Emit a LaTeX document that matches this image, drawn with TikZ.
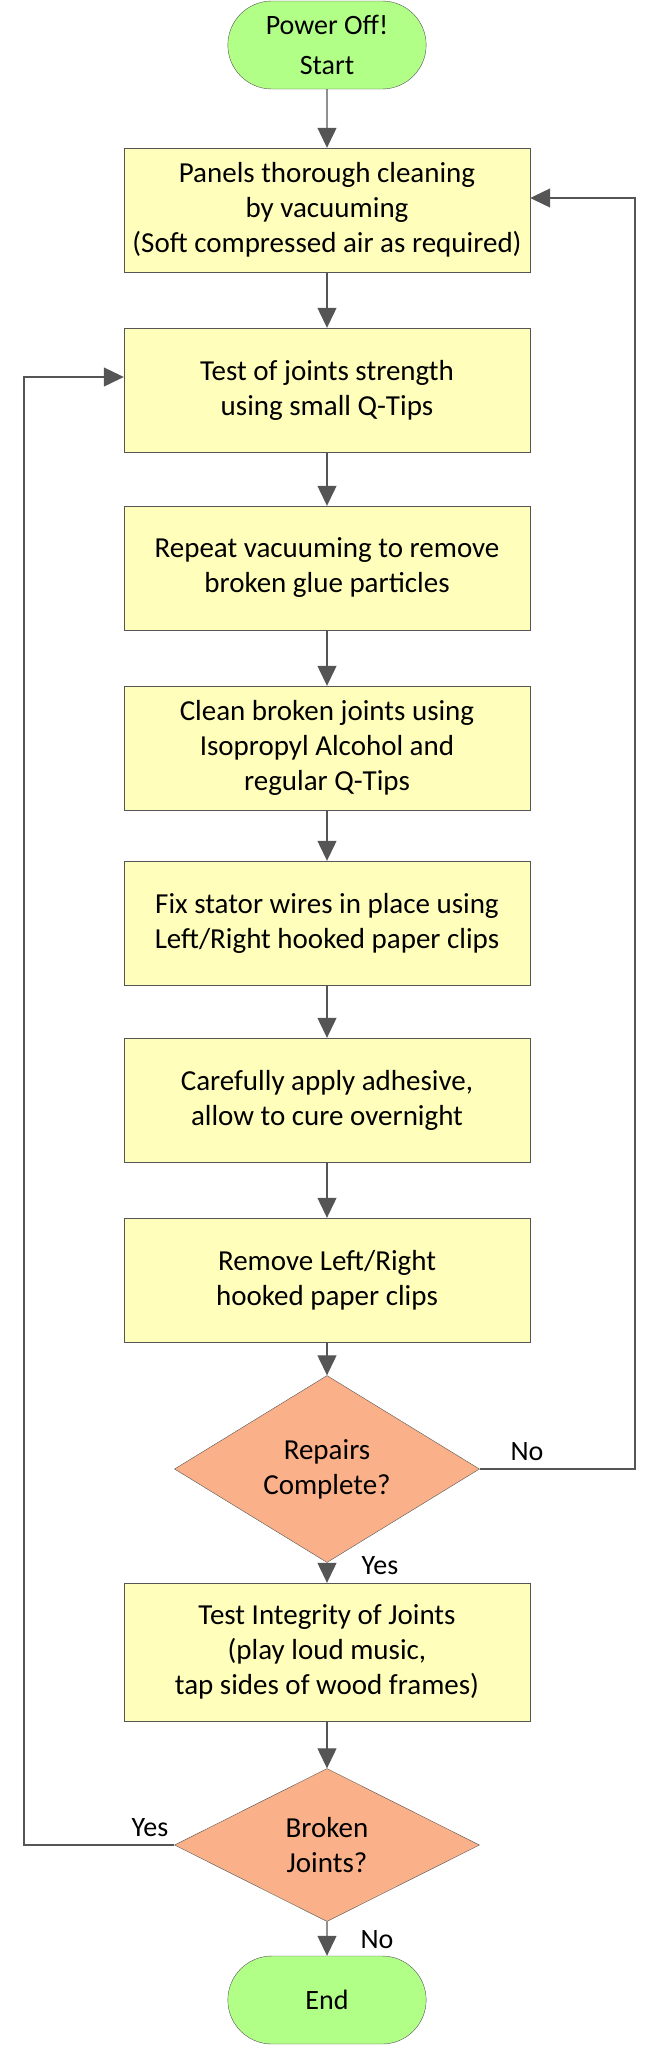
\documentclass[tikz,border=0pt]{standalone}
\usepackage{fontspec}
\setmainfont{Carlito}
\usetikzlibrary{shapes.geometric,shapes.misc,arrows.meta}
\definecolor{boxyellow}{RGB}{255,255,187}
\definecolor{termgreen}{RGB}{178,255,136}
\definecolor{decorange}{RGB}{250,176,136}
\definecolor{linegray}{RGB}{85,85,85}
\tikzset{
  stepbox/.style={draw=linegray, fill=boxyellow, minimum width=406pt, minimum height=124pt, align=center, font=\fontsize{29}{35}\selectfont},
  term/.style={draw=linegray, fill=termgreen, rounded rectangle, minimum width=205pt, minimum height=88pt, inner ysep=1pt, align=center, font=\fontsize{28}{40}\selectfont},
  decision/.style={draw=linegray, fill=decorange, diamond, inner sep=0pt, minimum width=305pt, minimum height=153pt, align=center, font=\fontsize{29}{35}\selectfont},
  flow/.style={draw=linegray, line width=1.2pt, -{Triangle[length=20pt,width=19pt]}},
  lbl/.style={font=\fontsize{28}{30}\selectfont}
}
\begin{document}
\begin{tikzpicture}[x=1pt,y=-1pt]
  \useasboundingbox (0,0) rectangle (653,2048);

  \node[term] (start) at (327,45) {Power Off!\\Start};
  \node[stepbox] (clean) at (327,210) {Panels thorough cleaning\\by vacuuming\\(Soft compressed air as required)};
  \node[stepbox] (test) at (327,390) {Test of joints strength\\using small Q-Tips};
  \node[stepbox] (vacuum) at (327,568) {Repeat vacuuming to remove\\broken glue particles};
  \node[stepbox] (alcohol) at (327,748) {Clean broken joints using\\Isopropyl Alcohol and\\regular Q-Tips};
  \node[stepbox] (fix) at (327,923) {Fix stator wires in place using\\Left/Right hooked paper clips};
  \node[stepbox] (glue) at (327,1100) {Carefully apply adhesive,\\allow to cure overnight};
  \node[stepbox] (remove) at (327,1280) {Remove Left/Right\\hooked paper clips};
  \node[decision] (repairs) at (327,1469) {Repairs\\Complete?};
  \node[stepbox, minimum height=138pt] (integrity) at (327,1652) {Test Integrity of Joints\\(play loud music,\\tap sides of wood frames)};
  \node[decision] (broken) at (327,1845) {Broken\\Joints?};
  \node[term] (end) at (327,2000) {End};

  \coordinate (rtop) at (635,198);
  \coordinate (rbot) at (635,1469);
  \coordinate (ltop) at (24,377);
  \coordinate (lbot) at (24,1845);

  \draw[flow] (start) -- (clean);
  \draw[flow] (clean) -- (test);
  \draw[flow] (test) -- (vacuum);
  \draw[flow] (vacuum) -- (alcohol);
  \draw[flow] (alcohol) -- (fix);
  \draw[flow] (fix) -- (glue);
  \draw[flow] (glue) -- (remove);
  \draw[flow] (remove) -- (repairs);
  \draw[flow] (repairs) -- (integrity);
  \draw[flow] (integrity) -- (broken);
  \draw[flow] (broken) -- (end);
  \draw[flow] (repairs.east) -- (rbot) -- (rtop) -- (clean.east |- rtop);
  \draw[flow] (broken.west) -- (lbot) -- (ltop) -- (test.west |- ltop);

  \node[lbl] (no1) at (527,1452) {No};
  \node[lbl] (yes1) at (380,1566) {Yes};
  \node[lbl] (yes2) at (150,1828) {Yes};
  \node[lbl] (no2) at (377,1940) {No};
\end{tikzpicture}
\end{document}
